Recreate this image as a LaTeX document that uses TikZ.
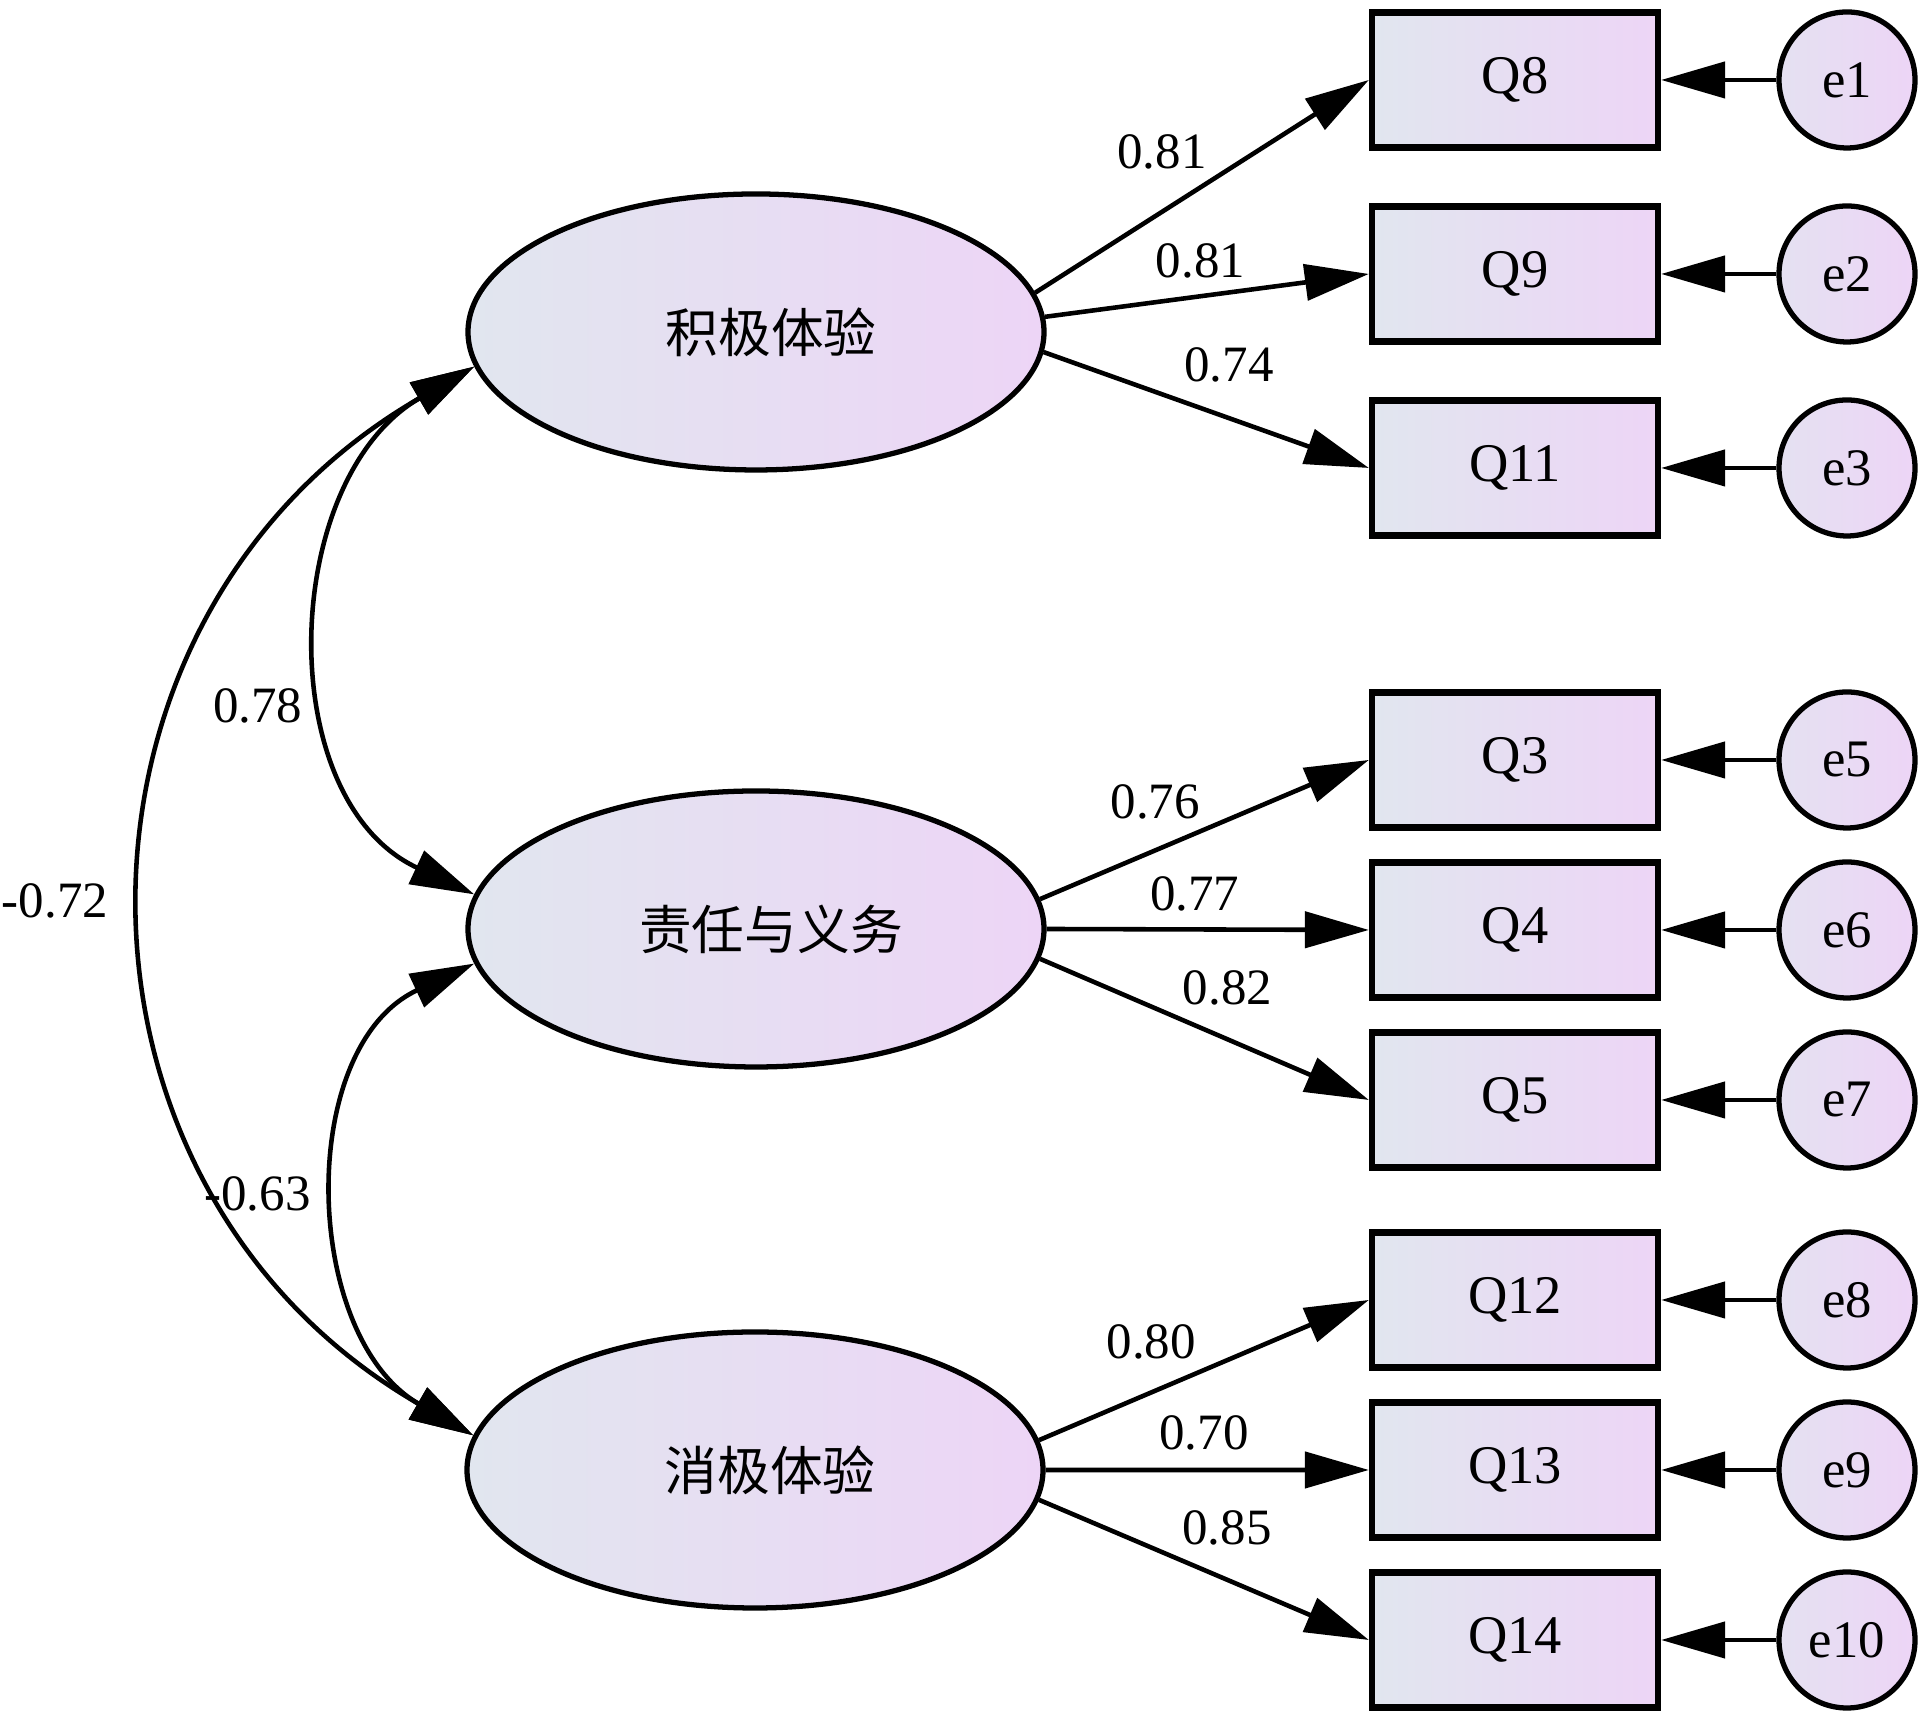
\documentclass[tikz,border=0pt]{standalone}
\usepackage{fontspec}
\setmainfont{Liberation Serif}
\newfontfamily\cjk{Noto Sans CJK SC}
\usetikzlibrary{positioning, arrows.meta, shapes.geometric, calc}
\definecolor{semL}{RGB}{225,230,239}
\definecolor{semR}{RGB}{237,213,246}
\tikzstyle{latent} = [ellipse, draw, line width=1.5pt, left color=semL, right color=semR, minimum width=5.76cm, minimum height=2.76cm, inner sep=0pt, font=\cjk\fontsize{15}{18}\selectfont, execute at begin node={\hspace*{0.3cm}}]
\tikzstyle{obs} = [rectangle, draw, line width=1.8pt, left color=semL, right color=semR, minimum width=2.86cm, minimum height=1.35cm, font=\fontsize{15.5}{18}\selectfont]
\tikzstyle{err} = [circle, draw, line width=1.5pt, left color=semL!70!semR, right color=semR, minimum size=1.36cm, inner sep=0pt, font=\fontsize{15}{18}\selectfont]
\tikzstyle{line} = [draw, line width=1.3pt, -{Triangle[length=6.4mm, width=3.6mm]}]
\tikzstyle{cov} = [draw, line width=1.3pt, {Triangle[length=6.4mm, width=3.6mm]}-{Triangle[length=6.4mm, width=3.6mm]}]
\tikzstyle{coef} = [font=\fontsize{14.5}{17}\selectfont, inner sep=1pt]

\begin{document}
\begin{tikzpicture}[node distance=1.5cm]
        \useasboundingbox (0,0) rectangle (19.23,17.13);
        % Latent factors
        \node (lat1) [latent] at (7.56,13.81) {积极体验};
        \node (lat2) [latent] at (7.56,7.84) {责任与义务};
        \node (lat3) [latent] at (7.55,2.43) {消极体验};
        % Items
        \node (q8) [obs] at (15.15,16.33) {Q8};
        \node (q9) [obs, below of=q8, yshift=-0.44cm] {Q9};
        \node (q11) [obs, below of=q9, yshift=-0.44cm] {Q11};
        \node (q3) [obs] at (15.15,9.53) {Q3};
        \node (q4) [obs, below of=q3, yshift=-0.2cm] {Q4};
        \node (q5) [obs, below of=q4, yshift=-0.2cm] {Q5};
        \node (q12) [obs] at (15.15,4.13) {Q12};
        \node (q13) [obs, below of=q12, yshift=-0.2cm] {Q13};
        \node (q14) [obs, below of=q13, yshift=-0.2cm] {Q14};
        % Errors
        \node (e1) [err, right of=q8, xshift=1.82cm] {e1};
        \node (e2) [err, right of=q9, xshift=1.82cm] {e2};
        \node (e3) [err, right of=q11, xshift=1.82cm] {e3};
        \node (e5) [err, right of=q3, xshift=1.82cm] {e5};
        \node (e6) [err, right of=q4, xshift=1.82cm] {e6};
        \node (e7) [err, right of=q5, xshift=1.82cm] {e7};
        \node (e8) [err, right of=q12, xshift=1.82cm] {e8};
        \node (e9) [err, right of=q13, xshift=1.82cm] {e9};
        \node (e10) [err, right of=q14, xshift=1.82cm] {e10};
        % Loadings
        \path [line] (lat1.8) -- node[coef, pos=0.38, yshift=0.6cm] {0.81} (q8.west);
        \path [line] (lat1.3) -- node[coef, pos=0.48, yshift=0.35cm] {0.81} (q9.west);
        \path [line] (lat1.356) -- node[coef, pos=0.57, yshift=0.53cm] {0.74} (q11.west);
        \path [line] (lat2.6) -- node[coef, pos=0.35, yshift=0.49cm] {0.76} (q3.west);
        \path [line] (lat2.0) -- node[coef, pos=0.46, yshift=0.36cm] {0.77} (q4.west);
        \path [line] (lat2.354) -- node[coef, pos=0.57, yshift=0.51cm] {0.82} (q5.west);
        \path [line] (lat3.6) -- node[coef, pos=0.34, yshift=0.51cm] {0.80} (q12.west);
        \path [line] (lat3.0) -- node[coef, pos=0.49, yshift=0.37cm] {0.70} (q13.west);
        \path [line] (lat3.354) -- node[coef, pos=0.57, yshift=0.52cm] {0.85} (q14.west);
        % Error terms
        \path [line] (e1) -- (q8);
        \path [line] (e2) -- (q9);
        \path [line] (e3) -- (q11);
        \path [line] (e5) -- (q3);
        \path [line] (e6) -- (q4);
        \path [line] (e7) -- (q5);
        \path [line] (e8) -- (q12);
        \path [line] (e9) -- (q13);
        \path [line] (e10) -- (q14);
        % Covariances
        \path [cov] (lat1.187) to[out=210, in=155, looseness=1.09] node[coef, pos=0.61, xshift=-0.74cm] {0.78} (lat2.173);
        \path [cov] (lat1.187) to[out=210, in=150, looseness=1.20] node[coef, pos=0.5, xshift=-0.94cm] {-0.72} (lat3.173);
        \path [cov] (lat2.187) to[out=205, in=150, looseness=1.07] node[coef, pos=0.5, xshift=-0.85cm] {-0.63} (lat3.173);
\end{tikzpicture}
\end{document}
